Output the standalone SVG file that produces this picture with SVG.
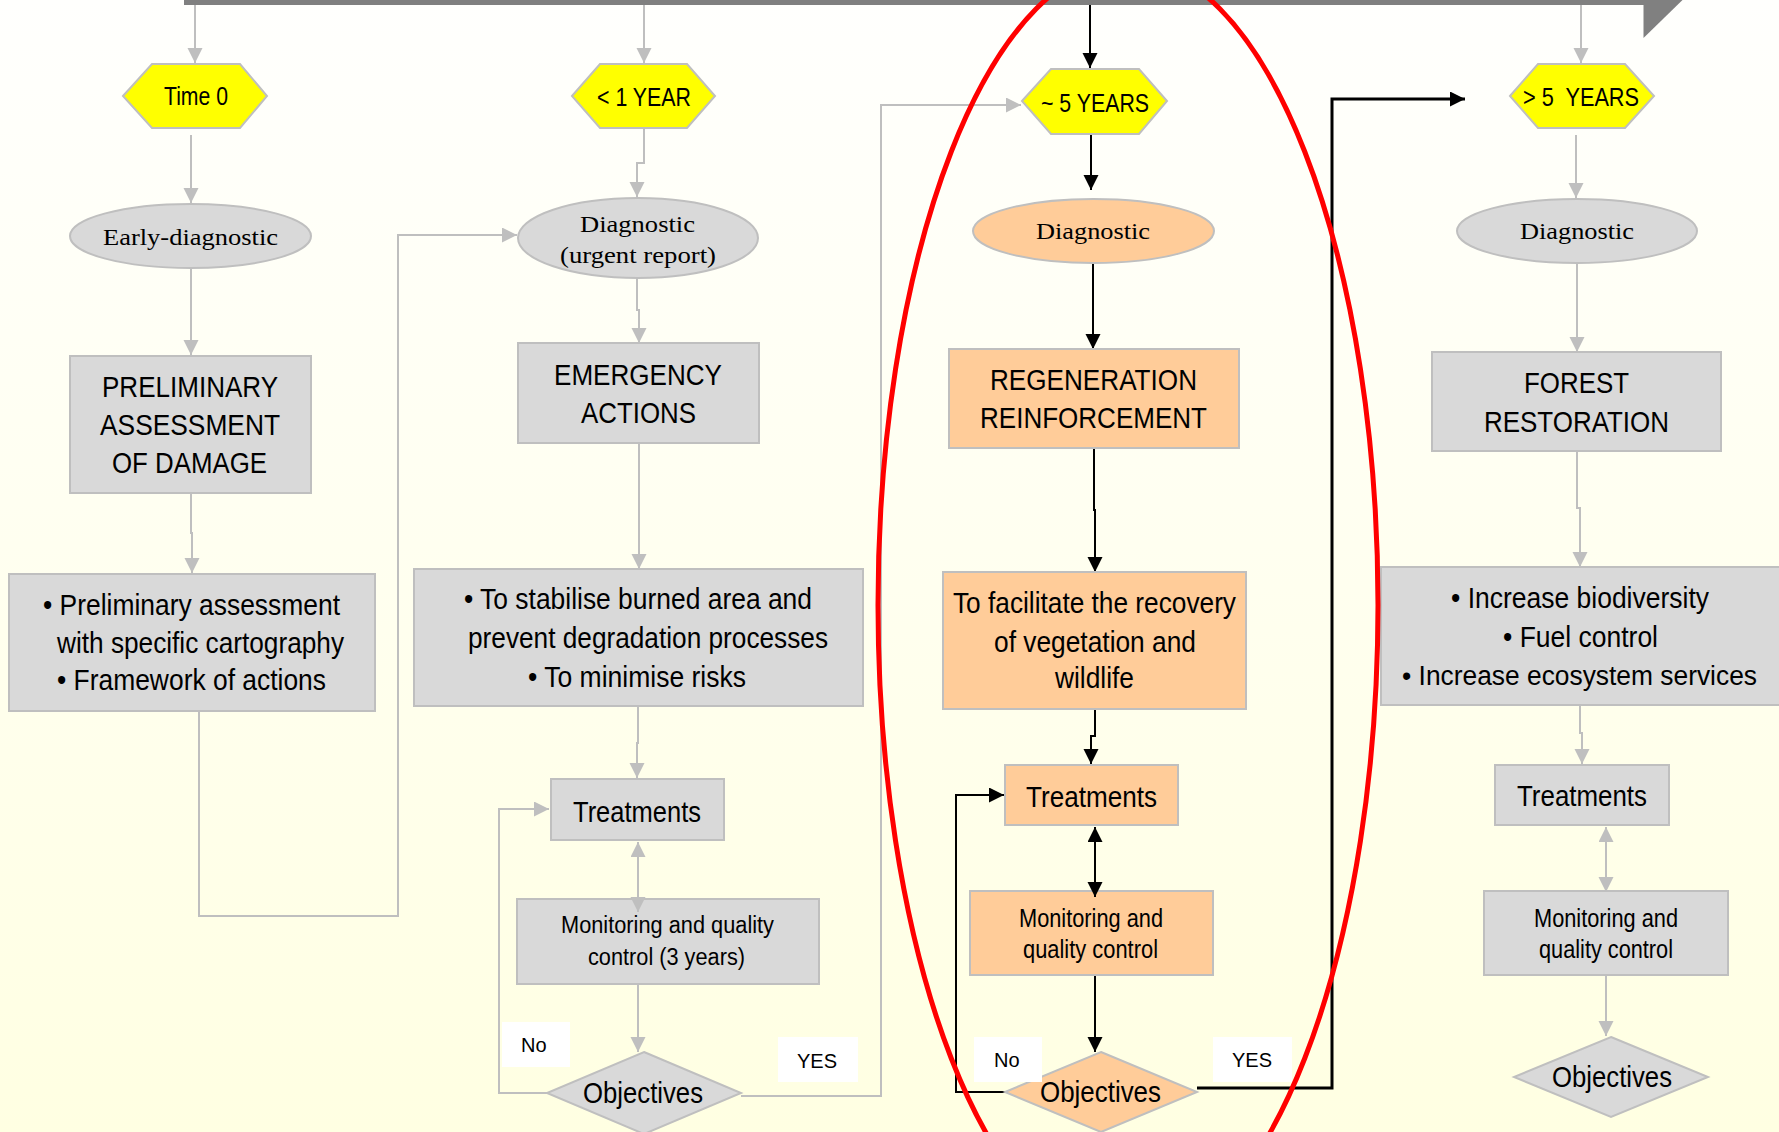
<svg xmlns="http://www.w3.org/2000/svg" width="1779" height="1132" viewBox="0 0 1779 1132">
<defs>
<linearGradient id="bg" x1="0" y1="0" x2="0" y2="1">
<stop offset="0" stop-color="#FFFFFD"/>
<stop offset="1" stop-color="#FFFFE2"/>
</linearGradient>
<marker id="ag" markerUnits="userSpaceOnUse" markerWidth="16" markerHeight="16" refX="15" refY="7.5" orient="auto-start-reverse"><path d="M0,0 L15,7.5 L0,15 z" fill="#BFBFBF"/></marker>
<marker id="ak" markerUnits="userSpaceOnUse" markerWidth="16" markerHeight="16" refX="15" refY="7.5" orient="auto-start-reverse"><path d="M0,0 L15,7.5 L0,15 z" fill="#000"/></marker>
<style>
.g{fill:#D9D9D9;stroke:#BFBFBF;stroke-width:2}
.o{fill:#FFCC99;stroke:#BFBFBF;stroke-width:2}
.y{fill:#FFFF00;stroke:#BFBFBF;stroke-width:2}
.lbl{fill:#FFFFFF}
.t{font-family:"Liberation Sans Narrow","Liberation Sans",Arial,sans-serif;fill:#000}
.s{font-family:"Liberation Serif","Times New Roman",serif;font-size:24px;fill:#000}
.yn{font-family:"Liberation Sans",Arial,sans-serif;font-size:20px;fill:#000}
.cg{fill:none;stroke:#BFBFBF;stroke-width:2}
.ck{fill:none;stroke:#000;stroke-width:2}
.eg{marker-end:url(#ag)}
.ek{marker-end:url(#ak)}
.bg2{marker-start:url(#ag);marker-end:url(#ag)}
.bk2{marker-start:url(#ak);marker-end:url(#ak)}
</style>
</defs>
<rect x="0" y="0" width="1779" height="1132" fill="url(#bg)"/>

<g id="timeline">
<rect x="184" y="0" width="1460" height="5" fill="#808080"/>
<polygon points="1643.5,0 1682.5,0 1643.5,38" fill="#808080"/>
</g>

<g id="connectors">
<path class="cg eg" d="M195,5 V63"/>
<path class="cg eg" d="M191,135 V203"/>
<path class="cg eg" d="M191,268 V355"/>
<path class="cg eg" d="M191,493 V533 H192 V573"/>
<path class="cg eg" d="M199,711 V916 H398 V235 H517"/>
<path class="cg eg" d="M644,5 V63"/>
<path class="cg eg" d="M644,128 V163 H637 V197"/>
<path class="cg eg" d="M637,278 V310 H639 V343"/>
<path class="cg eg" d="M639,443 V569"/>
<path class="cg eg" d="M638,706 V743 H637 V778"/>
<path class="cg eg" d="M638,984 V1052"/>
<path class="cg eg" d="M547,1093 H499 V809 H549"/>
<path class="cg eg" d="M741,1096 H881 V105 H1021"/>
<path class="ck ek" d="M1090,5 V68"/>
<path class="ck ek" d="M1091,130 V190"/>
<path class="ck ek" d="M1093,263 V349"/>
<path class="ck ek" d="M1094,448 V510 H1095 V572"/>
<path class="ck ek" d="M1095,709 V736 H1091 V764"/>
<path class="ck ek" d="M1095,962 V1052"/>
<path class="ck ek" d="M1005,1092 H956 V795 H1004"/>
<path class="ck ek" style="stroke-width:3" d="M1197,1088 H1332 V99 H1465"/>
<path class="cg eg" d="M1581,5 V63"/>
<path class="cg eg" d="M1576,135 V198"/>
<path class="cg eg" d="M1577,263 V352"/>
<path class="cg eg" d="M1577,451 V508 H1580 V567"/>
<path class="cg eg" d="M1580,705 V733 H1582 V764"/>
<path class="cg eg" d="M1606,975 V1036"/>
</g>

<g id="time0">
<polygon class="y" points="123,96 152,64 240,64 267,96 240,128 152,128"/>
<text class="t" x="164" y="105" font-size="26" textLength="64" lengthAdjust="spacingAndGlyphs">Time 0</text>
</g>
<g id="early-diagnostic">
<ellipse class="g" cx="190.5" cy="236" rx="120.5" ry="32"/>
<text class="s" x="103" y="245" textLength="175" lengthAdjust="spacingAndGlyphs">Early-diagnostic</text>
</g>
<g id="preliminary">
<rect class="g" x="70" y="356" width="241" height="137"/>
<text class="t" font-size="30" x="102" y="397" textLength="176" lengthAdjust="spacingAndGlyphs">PRELIMINARY</text>
<text class="t" font-size="30" x="100" y="435" textLength="180" lengthAdjust="spacingAndGlyphs">ASSESSMENT</text>
<text class="t" font-size="30" x="112" y="473" textLength="155" lengthAdjust="spacingAndGlyphs">OF DAMAGE</text>
</g>
<g id="preliminary-goals">
<rect class="g" x="9" y="574" width="366" height="137"/>
<text class="t" font-size="29" x="43" y="615" textLength="297" lengthAdjust="spacingAndGlyphs">• Preliminary assessment</text>
<text class="t" font-size="29" x="57" y="653" textLength="287" lengthAdjust="spacingAndGlyphs">with specific cartography</text>
<text class="t" font-size="29" x="57" y="690" textLength="269" lengthAdjust="spacingAndGlyphs">• Framework of actions</text>
</g>

<g id="year1">
<polygon class="y" points="572,96 600,64 687,64 715,96 687,128 600,128"/>
<text class="t" x="597" y="106" font-size="26" textLength="94" lengthAdjust="spacingAndGlyphs">&lt; 1 YEAR</text>
</g>
<g id="diagnostic-urgent">
<ellipse class="g" cx="638" cy="238" rx="120" ry="40"/>
<text class="s" x="580" y="232" textLength="115" lengthAdjust="spacingAndGlyphs">Diagnostic</text>
<text class="s" x="560" y="263" textLength="156" lengthAdjust="spacingAndGlyphs">(urgent report)</text>
</g>
<g id="emergency">
<rect class="g" x="518" y="343" width="241" height="100"/>
<text class="t" font-size="30" x="554" y="385" textLength="168" lengthAdjust="spacingAndGlyphs">EMERGENCY</text>
<text class="t" font-size="30" x="581" y="423" textLength="115" lengthAdjust="spacingAndGlyphs">ACTIONS</text>
</g>
<g id="emergency-goals">
<rect class="g" x="414" y="569" width="449" height="137"/>
<text class="t" font-size="29" x="464" y="609" textLength="348" lengthAdjust="spacingAndGlyphs">• To stabilise burned area and</text>
<text class="t" font-size="29" x="468" y="648" textLength="360" lengthAdjust="spacingAndGlyphs">prevent degradation processes</text>
<text class="t" font-size="29" x="528" y="687" textLength="218" lengthAdjust="spacingAndGlyphs">• To minimise risks</text>
</g>
<g id="treatments-1">
<rect class="g" x="551" y="779" width="173" height="61"/>
<text class="t" font-size="30" x="573" y="822" textLength="128" lengthAdjust="spacingAndGlyphs">Treatments</text>
</g>
<g id="monitoring-1">
<rect class="g" x="517" y="899" width="302" height="85"/>
<text class="t" font-size="23" x="561" y="933" textLength="213" lengthAdjust="spacingAndGlyphs">Monitoring and quality</text>
<text class="t" font-size="23" x="588" y="965" textLength="157" lengthAdjust="spacingAndGlyphs">control (3 years)</text>
</g>
<g id="objectives-1">
<polygon class="g" points="644,1052 741,1093 644,1134 547,1093"/>
<text class="t" font-size="30" x="583" y="1103" textLength="120" lengthAdjust="spacingAndGlyphs">Objectives</text>
</g>

<g id="years5">
<polygon class="y" points="1022,101 1051,69 1139,69 1167,101 1139,134 1051,134"/>
<text class="t" x="1041" y="112" font-size="25" textLength="108" lengthAdjust="spacingAndGlyphs">~ 5 YEARS</text>
</g>
<g id="diagnostic-5">
<ellipse class="o" cx="1093.5" cy="231" rx="120.5" ry="32"/>
<text class="s" x="1036" y="239" textLength="114" lengthAdjust="spacingAndGlyphs">Diagnostic</text>
</g>
<g id="regeneration">
<rect class="o" x="949" y="349" width="290" height="99"/>
<text class="t" font-size="30" x="990" y="390" textLength="207" lengthAdjust="spacingAndGlyphs">REGENERATION</text>
<text class="t" font-size="30" x="980" y="428" textLength="227" lengthAdjust="spacingAndGlyphs">REINFORCEMENT</text>
</g>
<g id="regeneration-goals">
<rect class="o" x="943" y="572" width="303" height="137"/>
<text class="t" font-size="29" x="953" y="613" textLength="283" lengthAdjust="spacingAndGlyphs">To facilitate the recovery</text>
<text class="t" font-size="29" x="994" y="652" textLength="202" lengthAdjust="spacingAndGlyphs">of vegetation and</text>
<text class="t" font-size="29" x="1055" y="688" textLength="79" lengthAdjust="spacingAndGlyphs">wildlife</text>
</g>
<g id="treatments-2">
<rect class="o" x="1005" y="765" width="173" height="60"/>
<text class="t" font-size="30" x="1026" y="807" textLength="131" lengthAdjust="spacingAndGlyphs">Treatments</text>
</g>
<g id="monitoring-2">
<rect class="o" x="970" y="891" width="243" height="84"/>
<text class="t" font-size="25" x="1019" y="927" textLength="144" lengthAdjust="spacingAndGlyphs">Monitoring and</text>
<text class="t" font-size="25" x="1023" y="958" textLength="135" lengthAdjust="spacingAndGlyphs">quality control</text>
</g>
<g id="objectives-2">
<polygon class="o" points="1101,1052 1197,1092 1101,1132 1005,1092"/>
<text class="t" font-size="30" x="1040" y="1102" textLength="121" lengthAdjust="spacingAndGlyphs">Objectives</text>
</g>

<g id="years5plus">
<polygon class="y" points="1510,96 1538,64 1625,64 1654,96 1625,128 1538,128"/>
<text class="t" x="1523" y="106" font-size="26" textLength="116" lengthAdjust="spacingAndGlyphs">&gt; 5&#160; YEARS</text>
</g>
<g id="diagnostic-5plus">
<ellipse class="g" cx="1577" cy="231" rx="120" ry="32"/>
<text class="s" x="1520" y="239" textLength="114" lengthAdjust="spacingAndGlyphs">Diagnostic</text>
</g>
<g id="forest">
<rect class="g" x="1432" y="352" width="289" height="99"/>
<text class="t" font-size="30" x="1524" y="393" textLength="105" lengthAdjust="spacingAndGlyphs">FOREST</text>
<text class="t" font-size="30" x="1484" y="432" textLength="185" lengthAdjust="spacingAndGlyphs">RESTORATION</text>
</g>
<g id="forest-goals">
<rect class="g" x="1381" y="567" width="399" height="138"/>
<text class="t" font-size="29" x="1451" y="608" textLength="258" lengthAdjust="spacingAndGlyphs">• Increase biodiversity</text>
<text class="t" font-size="29" x="1503" y="647" textLength="155" lengthAdjust="spacingAndGlyphs">• Fuel control</text>
<text class="t" font-size="27" x="1579.5" y="685" text-anchor="middle" textLength="355" lengthAdjust="spacingAndGlyphs">• Increase ecosystem services</text>
</g>
<g id="treatments-3">
<rect class="g" x="1495" y="765" width="174" height="60"/>
<text class="t" font-size="30" x="1517" y="806" textLength="130" lengthAdjust="spacingAndGlyphs">Treatments</text>
</g>
<g id="monitoring-3">
<rect class="g" x="1484" y="891" width="244" height="84"/>
<text class="t" font-size="25" x="1534" y="927" textLength="144" lengthAdjust="spacingAndGlyphs">Monitoring and</text>
<text class="t" font-size="25" x="1539" y="958" textLength="134" lengthAdjust="spacingAndGlyphs">quality control</text>
</g>
<g id="objectives-3">
<polygon class="g" points="1611,1037 1708,1077 1611,1117 1514,1077"/>
<text class="t" font-size="30" x="1552" y="1087" textLength="120" lengthAdjust="spacingAndGlyphs">Objectives</text>
</g>

<g id="double-arrows">
<path class="cg bg2" d="M638,842 V912"/>
<path class="ck bk2" d="M1095,827 V897"/>
<path class="cg bg2" d="M1606,827 V892"/>
</g>

<g id="decision-labels">
<rect class="lbl" x="502" y="1022" width="68" height="45"/>
<text class="yn" x="521" y="1052">No</text>
<rect class="lbl" x="778" y="1037" width="80" height="45"/>
<text class="yn" x="797" y="1068">YES</text>
<rect class="lbl" x="974" y="1037" width="68" height="45"/>
<text class="yn" x="994" y="1067">No</text>
<rect class="lbl" x="1213" y="1037" width="79" height="45"/>
<text class="yn" x="1232" y="1067">YES</text>
</g>

<g id="highlight">
<ellipse cx="1128" cy="605" rx="250" ry="641" fill="none" stroke="#FF0000" stroke-width="5"/>
</g>
</svg>
